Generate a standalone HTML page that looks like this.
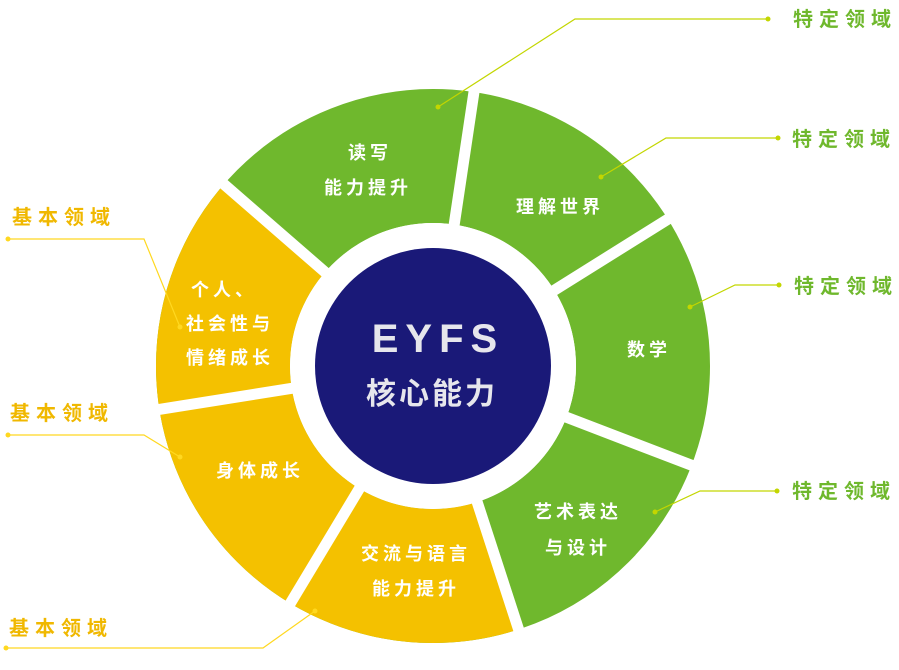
<!DOCTYPE html>
<html><head><meta charset="utf-8"><style>
html,body{margin:0;padding:0;background:#fff;}
svg{display:block;}
.t{font-family:"Liberation Sans","Noto Sans CJK SC",sans-serif;font-weight:bold;}
</style></head><body>
<svg width="899" height="670" viewBox="0 0 899 670" xmlns="http://www.w3.org/2000/svg">
<circle cx="433" cy="366" r="210" fill="none" stroke="#6fb82d" stroke-width="134"/>
<circle cx="433" cy="366" r="210" fill="none" stroke="#f4c100" stroke-width="134" stroke-dasharray="546.2 2000" stroke-dashoffset="-263.9"/>
<g stroke="#fff" stroke-width="11">
<line x1="453" y1="232.5" x2="475.9" y2="79.2"/>
<line x1="547.5" y1="294.5" x2="678.9" y2="212.3"/>
<line x1="559" y1="414.4" x2="703.7" y2="469.9"/>
<line x1="474.7" y1="494.4" x2="522.6" y2="641.8"/>
<line x1="363.5" y1="481.7" x2="283.6" y2="614.6"/>
<line x1="299.7" y1="387.1" x2="146.6" y2="411.4"/>
<line x1="331.1" y1="277.4" x2="214.1" y2="175.7"/>
</g>
<circle cx="433" cy="366" r="143" fill="#fff"/>
<circle cx="433" cy="366" r="118" fill="#1a1978"/>
<text class="t" x="438" y="352" font-size="40" fill="#e6e6ec" text-anchor="middle" letter-spacing="7">EYFS</text>
<text class="t" x="432" y="404" font-size="30" fill="#e6e6ec" text-anchor="middle" letter-spacing="3">核心能力</text>
<g class="t" font-size="18" fill="#fff" text-anchor="middle" letter-spacing="4">
<text x="370" y="159">读写</text>
<text x="368" y="194">能力提升</text>
<text x="560" y="213">理解世界</text>
<text x="649" y="356">数学</text>
<text x="578" y="518">艺术表达</text>
<text x="578" y="554">与设计</text>
<text x="416" y="560">交流与语言</text>
<text x="416" y="595">能力提升</text>
<text x="260" y="477">身体成长</text>
<text x="224" y="296">个人、</text>
<text x="230" y="330">社会性与</text>
<text x="230" y="364">情绪成长</text>
</g>
<g fill="none" stroke="#c3d600" stroke-width="1.2">
<polyline points="438,107 575,19 768,19"/>
<polyline points="601,177 666,138 778,138"/>
<polyline points="690,307 735,285 779,285"/>
<polyline points="655,512 700,491 777,491"/>
</g>
<g fill="#c3d600">
<circle cx="438" cy="107" r="2.5"/><circle cx="768" cy="19" r="2.5"/>
<circle cx="601" cy="177" r="2.5"/><circle cx="778" cy="138" r="2.5"/>
<circle cx="690" cy="307" r="2.5"/><circle cx="779" cy="285" r="2.5"/>
<circle cx="655" cy="512" r="2.5"/><circle cx="777" cy="491" r="2.5"/>
</g>
<g fill="none" stroke="#ffd820" stroke-width="1.2">
<polyline points="8,239 144,239 180,327"/>
<polyline points="8,435 144,435 180,457"/>
<polyline points="6,648 263,648 315,611"/>
</g>
<g fill="#ffd820">
<circle cx="8" cy="239" r="2.5"/><circle cx="180" cy="327" r="2.5"/>
<circle cx="8" cy="435" r="2.5"/><circle cx="180" cy="457" r="2.5"/>
<circle cx="6" cy="648" r="2.5"/><circle cx="315" cy="611" r="2.5"/>
</g>
<g class="t" font-size="20" fill="#6fb82d" letter-spacing="6">
<text x="793" y="26">特定领域</text>
<text x="792" y="146">特定领域</text>
<text x="794" y="293">特定领域</text>
<text x="792" y="498">特定领域</text>
</g>
<g class="t" font-size="20" fill="#f0b800" letter-spacing="6">
<text x="12" y="224">基本领域</text>
<text x="10" y="420">基本领域</text>
<text x="9" y="635">基本领域</text>
</g>
</svg>
</body></html>
